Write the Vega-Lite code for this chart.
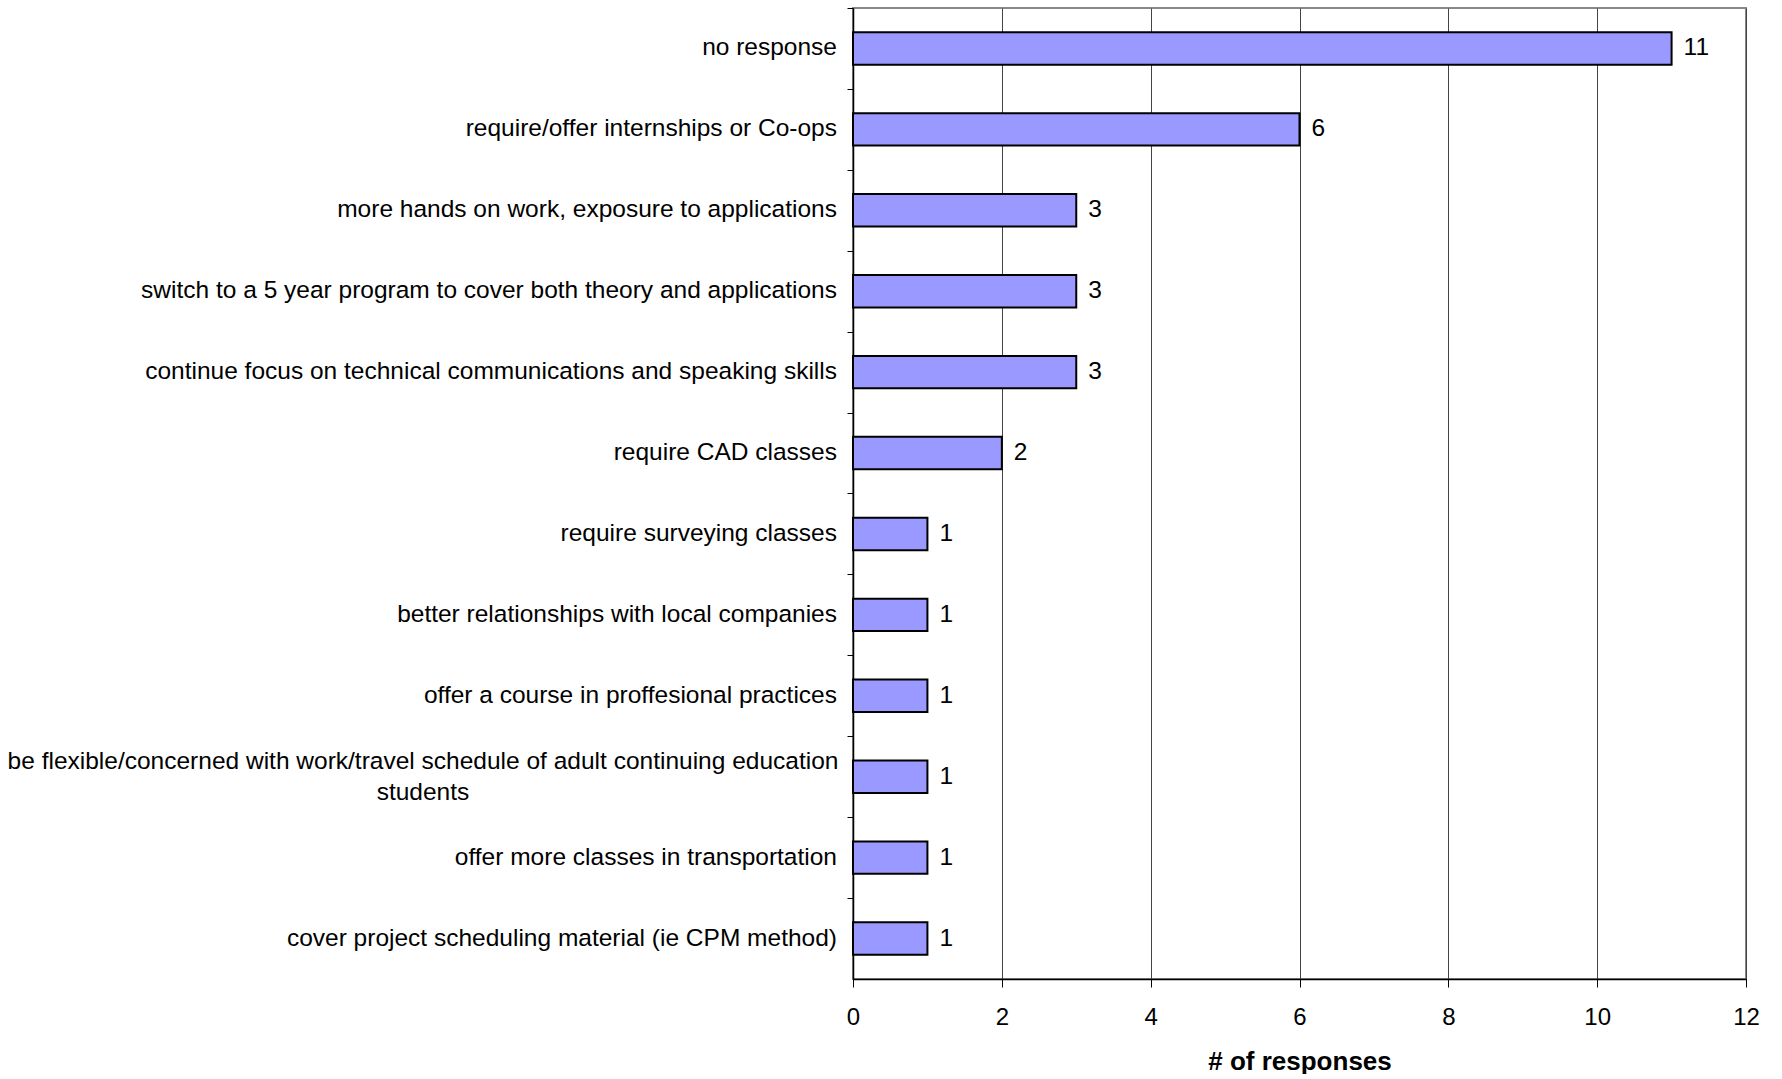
{
  "$schema": "https://vega.github.io/schema/vega-lite/v6.json",
  "width": 893,
  "height": 971,
  "padding": {"left": 7, "top": 7, "right": 34, "bottom": 0},
  "background": "white",
  "config": {
    "font": "Liberation Sans",
    "view": {"stroke": "#888888", "strokeWidth": 2}
  },
  "data": {
    "values": [
      {"category": "no response", "count": 11},
      {"category": "require/offer internships or Co-ops", "count": 6},
      {"category": "more  hands on work, exposure to applications", "count": 3},
      {"category": "switch to a 5 year program to cover both theory and applications", "count": 3},
      {"category": "continue focus on technical communications and speaking skills", "count": 3},
      {"category": "require CAD classes", "count": 2},
      {"category": "require surveying classes", "count": 1},
      {"category": "better relationships with local companies", "count": 1},
      {"category": "offer a course in proffesional practices", "count": 1},
      {"category": "be flexible/concerned with work/travel schedule of adult continuing education|students", "count": 1},
      {"category": "offer more classes in transportation", "count": 1},
      {"category": "cover project scheduling material (ie CPM method)", "count": 1}
    ]
  },
  "encoding": {
    "y": {
      "field": "category",
      "type": "nominal",
      "sort": null,
      "scale": {"paddingInner": 0.6, "paddingOuter": 0.3},
      "axis": {
        "title": null,
        "labels": false,
        "bandPosition": 0,
        "tickOffset": -24.3,
        "tickExtra": false,
        "tickSize": 6,
        "tickColor": "black",
        "domainColor": "black",
        "domainWidth": 1.5
      }
    },
    "x": {
      "field": "count",
      "type": "quantitative",
      "scale": {"domain": [0, 12]},
      "axis": {
        "title": "# of responses",
        "titleFontSize": 26,
        "titleFontWeight": "bold",
        "titleColor": "black",
        "titlePadding": 19,
        "values": [0, 2, 4, 6, 8, 10, 12],
        "labelFlush": false,
        "labelFontSize": 24,
        "labelColor": "black",
        "labelPadding": 18,
        "tickSize": 8,
        "tickColor": "black",
        "domainColor": "black",
        "domainWidth": 1.5,
        "grid": true,
        "gridColor": "#444444",
        "gridWidth": 1
      }
    }
  },
  "layer": [
    {
      "mark": {"type": "bar", "color": "#9999FF", "stroke": "black", "strokeWidth": 2}
    },
    {
      "mark": {"type": "text", "align": "left", "dx": 12, "fontSize": 24.5, "color": "black"},
      "encoding": {"text": {"field": "count", "type": "quantitative"}}
    },
    {
      "transform": [{"filter": "indexof(datum.category, '|') < 0"}],
      "mark": {"type": "text", "align": "right", "baseline": "middle", "dx": -16, "fontSize": 24.5, "color": "black"},
      "encoding": {
        "x": {"datum": 0},
        "text": {"field": "category", "type": "nominal"}
      }
    },
    {
      "transform": [{"filter": "indexof(datum.category, '|') >= 0"}],
      "mark": {"type": "text", "align": "center", "baseline": "middle", "lineBreak": "|", "lineHeight": 31, "dx": -430, "dy": -15, "fontSize": 24.5, "color": "black"},
      "encoding": {
        "x": {"datum": 0},
        "text": {"field": "category", "type": "nominal"}
      }
    }
  ]
}
